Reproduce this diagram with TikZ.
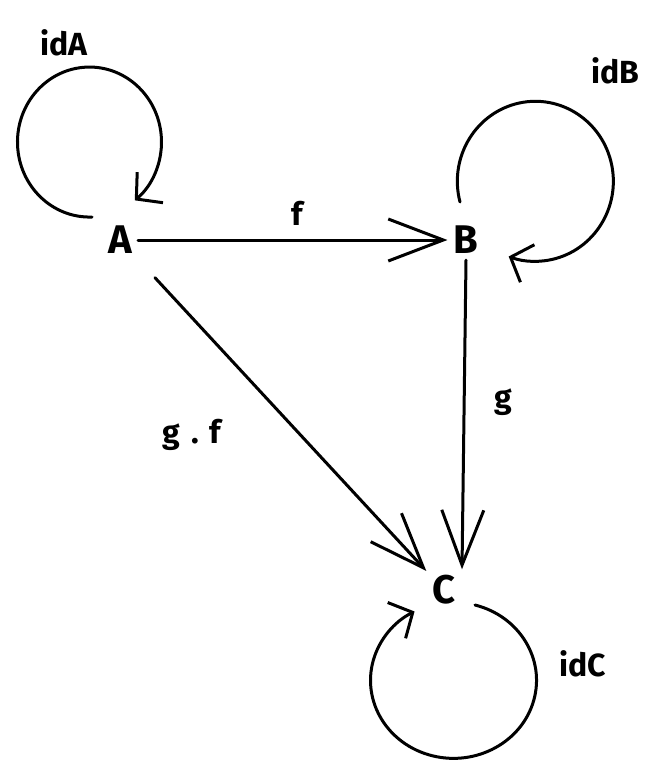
\documentclass[tikz,border=0pt]{standalone}
\usepackage{fontspec}
\setmainfont{Fira Sans}
\usetikzlibrary{arrows.meta}

\begin{document}
\begin{tikzpicture}[x=1pt,y=-1pt,
    obj/.style={inner sep=6pt,font=\fontsize{40}{44}\selectfont\bfseries},
    lbl/.style={inner sep=1pt,font=\fontsize{32}{36}\selectfont\bfseries},
    mor/.style={line width=3pt,line cap=round,line join=round,
      -{Straight Barb[length=55pt,width=42pt,line width=3pt]}},
    idloop/.style={line width=3pt,line cap=round,line join=round,
      -{Straight Barb[length=18pt,width=40pt,line width=3pt]}}]
  \useasboundingbox (0,0) rectangle (666,782);
  % objects
  \node[obj] (A) at (120,240) {A};
  \node[obj] (B) at (466,240) {B};
  \node[obj] (C) at (444,590) {C};
  % labels
  \node[lbl] (idA) at (64,43) {idA};
  \node[lbl] (idB) at (615,71) {idB};
  \node[lbl] (idC) at (583,664) {idC};
  \node[lbl] (f) at (297,213) {f};
  \node[lbl] (g) at (503,402) {g};
  \node[lbl] (gf) at (192,435) {g\,\,.\,\,f};
  % morphisms
  \draw[mor] (A) -- (B);
  \draw[mor] (B.south) -- ([xshift=18pt]C.north);
  \draw[mor,shorten <=25pt] (A) -- (C);
  % identities
  \draw[idloop] ([shift={(-28,-23)}]A.center)
    arc[start angle=88,end angle=411,x radius=72,y radius=75];
  \draw[idloop] ([shift={(-6,-38)}]B.center)
    arc[start angle=165,end angle=470,x radius=78,y radius=80];
  \draw[idloop] ([shift={(31,15)}]C.center)
    arc[start angle=-75,end angle=242,x radius=83,y radius=78];
\end{tikzpicture}
\end{document}
